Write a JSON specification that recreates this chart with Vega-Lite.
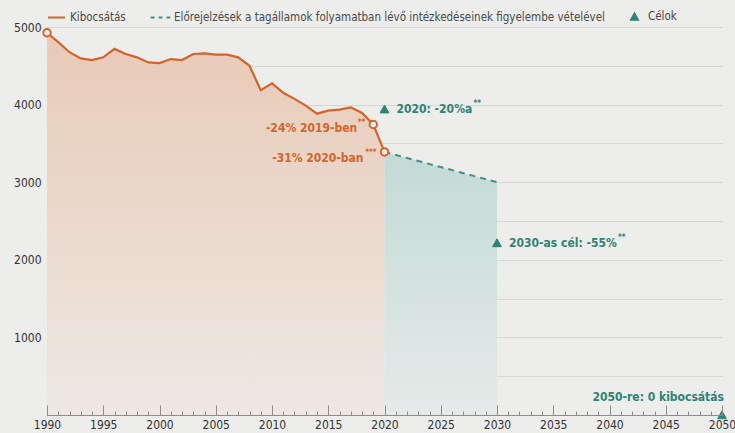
{
  "$schema": "https://vega.github.io/schema/vega-lite/v6.json",
  "width": 675,
  "height": 388,
  "autosize": {"type": "none"},
  "padding": {"left": 47, "top": 27, "right": 13, "bottom": 18},
  "background": "#ededeb",
  "config": {
    "view": {"stroke": null},
    "font": "DejaVu Sans Condensed",
    "axis": {"labelFont": "DejaVu Sans Condensed", "labelFontSize": 12, "labelColor": "#333333", "title": null}
  },
  "datasets": {
    "hist": [
      {"year": 1990, "value": 4926}, {"year": 1991, "value": 4805}, {"year": 1992, "value": 4675},
      {"year": 1993, "value": 4596}, {"year": 1994, "value": 4574}, {"year": 1995, "value": 4609},
      {"year": 1996, "value": 4718}, {"year": 1997, "value": 4652}, {"year": 1998, "value": 4609},
      {"year": 1999, "value": 4544}, {"year": 2000, "value": 4535}, {"year": 2001, "value": 4587},
      {"year": 2002, "value": 4574}, {"year": 2003, "value": 4652}, {"year": 2004, "value": 4661},
      {"year": 2005, "value": 4643}, {"year": 2006, "value": 4643}, {"year": 2007, "value": 4609},
      {"year": 2008, "value": 4500}, {"year": 2009, "value": 4187}, {"year": 2010, "value": 4274},
      {"year": 2011, "value": 4152}, {"year": 2012, "value": 4074}, {"year": 2013, "value": 3987},
      {"year": 2014, "value": 3883}, {"year": 2015, "value": 3922}, {"year": 2016, "value": 3935},
      {"year": 2017, "value": 3965}, {"year": 2018, "value": 3892}, {"year": 2019, "value": 3744},
      {"year": 2020, "value": 3390}
    ],
    "proj": [
      {"year": 2020, "value": 3390}, {"year": 2030, "value": 3000}
    ],
    "marked": [
      {"year": 1990, "value": 4926}, {"year": 2019, "value": 3744}, {"year": 2020, "value": 3390}
    ],
    "targets": [
      {"year": 2020, "value": 3941, "series": "Célok"},
      {"year": 2030, "value": 2217, "series": "Célok"},
      {"year": 2050, "value": 0, "series": "Célok"}
    ],
    "labels": [
      {"id": "h19", "year": 2019, "value": 3744, "label": "-24% 2019-ben", "sup": "**"},
      {"id": "h20", "year": 2020, "value": 3390, "label": "-31% 2020-ban", "sup": "***"},
      {"id": "t20", "year": 2020, "value": 3941, "label": "2020: -20%a", "sup": "**"},
      {"id": "t30", "year": 2030, "value": 2217, "label": "2030-as cél: -55%", "sup": "**"},
      {"id": "t50", "year": 2050, "value": 0, "label": "2050-re: 0 kibocsátás", "sup": ""}
    ]
  },
  "resolve": {"axis": {"x": "independent"}},
  "layer": [
    {
      "data": {"name": "hist"},
      "mark": {"type": "area", "color": {"gradient": "linear", "x1": 0, "y1": 0, "x2": 0, "y2": 1, "stops": [{"offset": 0, "color": "#e8cab6"}, {"offset": 1, "color": "#eee8e3"}]}},
      "encoding": {
        "x": {"field": "year", "type": "quantitative", "scale": {"domain": [1990, 2050], "nice": false},
          "axis": {"orient": "bottom", "zindex": 1, "values": [1990, 1995, 2000, 2005, 2010, 2015, 2020, 2025, 2030, 2035, 2040, 2045, 2050], "format": "d", "tickSize": -10, "tickColor": "#8c8c8c", "domainColor": "#8c8c8c", "labelPadding": 14, "grid": false, "labelFlush": false}},
        "y": {"field": "value", "type": "quantitative", "scale": {"domain": [0, 5000], "nice": false},
          "axis": {"values": [500, 1000, 1500, 2000, 2500, 3000, 3500, 4000, 4500, 5000], "labelExpr": "datum.value % 1000 === 0 ? datum.label : ''", "format": "d", "ticks": false, "labelPadding": 6, "gridColor": "#d6d6d4", "domainColor": "#b4b4b2", "grid": true}}
      }
    },
    {
      "data": {"name": "proj"},
      "mark": {"type": "area", "color": {"gradient": "linear", "x1": 0, "y1": 0, "x2": 0, "y2": 1, "stops": [{"offset": 0, "color": "#c3dad6"}, {"offset": 1, "color": "#e5eae9"}]}},
      "encoding": {
        "x": {"field": "year", "type": "quantitative",
          "axis": {"orient": "bottom", "zindex": 1, "values": [1990,1991,1992,1993,1994,1995,1996,1997,1998,1999,2000,2001,2002,2003,2004,2005,2006,2007,2008,2009,2010,2011,2012,2013,2014,2015,2016,2017,2018,2019,2020,2021,2022,2023,2024,2025,2026,2027,2028,2029,2030,2031,2032,2033,2034,2035,2036,2037,2038,2039,2040,2041,2042,2043,2044,2045,2046,2047,2048,2049,2050], "labels": false, "tickSize": -4, "tickColor": "#8c8c8c", "domain": false, "grid": false}},
        "y": {"field": "value", "type": "quantitative"}
      }
    },
    {
      "data": {"name": "hist"},
      "mark": {"type": "line", "color": "#d2642c", "strokeWidth": 2.2},
      "encoding": {
        "x": {"field": "year", "type": "quantitative", "axis": null},
        "y": {"field": "value", "type": "quantitative"}
      }
    },
    {
      "data": {"name": "proj"},
      "mark": {"type": "line", "color": "#3f9183", "strokeWidth": 2, "strokeDash": [6, 5]},
      "encoding": {
        "x": {"field": "year", "type": "quantitative", "axis": null},
        "y": {"field": "value", "type": "quantitative"}
      }
    },
    {
      "data": {"name": "marked"},
      "mark": {"type": "point", "shape": "circle", "filled": false, "fill": "#f6efe9", "stroke": "#d2642c", "strokeWidth": 2, "size": 55, "opacity": 1},
      "encoding": {
        "x": {"field": "year", "type": "quantitative", "axis": null},
        "y": {"field": "value", "type": "quantitative"}
      }
    },
    {
      "data": {"name": "targets"},
      "mark": {"type": "point", "filled": false, "fill": "#2e8474", "fillOpacity": 1, "strokeWidth": 1, "size": 480, "opacity": 1},
      "encoding": {
        "x": {"field": "year", "type": "quantitative", "axis": null},
        "y": {"field": "value", "type": "quantitative"},
        "color": {"field": "series", "type": "nominal",
          "scale": {"domain": ["Kibocsátás", "Előrejelzések a tagállamok folyamatban lévő intézkedéseinek figyelembe vételével", "Célok"], "range": ["#d2642c", "#3f9183", "#2e8474"]},
          "legend": {"orient": "none", "legendX": 0, "legendY": -20, "direction": "horizontal", "columns": 3, "title": null, "padding": 0,
            "labelFont": "DejaVu Sans Condensed", "labelFontSize": 11.5, "labelColor": "#4a4a4a", "labelLimit": 700, "symbolSize": 289, "labelOffset": 4, "columnPadding": 20,
            "symbolStrokeWidth": 2, "symbolFillColor": "#2e8474", "symbolOpacity": 1}},
        "shape": {"field": "series", "type": "nominal",
          "scale": {"domain": ["Kibocsátás", "Előrejelzések a tagállamok folyamatban lévő intézkedéseinek figyelembe vételével", "Célok"], "range": ["M-1,0H1", "M-1.15,0H-0.7M-0.22,0H0.22M0.7,0H1.15", "M0,-0.38L0.4,0.34L-0.4,0.34Z"]}}
      }
    },
    {
      "data": {"name": "labels"},
      "transform": [{"filter": "datum.id === 'h19'"}],
      "layer": [
        {"mark": {"type": "text", "align": "right", "baseline": "middle", "dx": -16, "dy": 4, "fontWeight": "bold", "fontSize": 12, "color": "#d2642c"},
         "encoding": {"x": {"field": "year", "type": "quantitative", "axis": null}, "y": {"field": "value", "type": "quantitative"}, "text": {"field": "label"}}},
        {"mark": {"type": "text", "align": "right", "baseline": "middle", "dx": -8, "dy": -1, "fontWeight": "bold", "fontSize": 8, "color": "#d2642c"},
         "encoding": {"x": {"field": "year", "type": "quantitative", "axis": null}, "y": {"field": "value", "type": "quantitative"}, "text": {"field": "sup"}}}
      ]
    },
    {
      "data": {"name": "labels"},
      "transform": [{"filter": "datum.id === 'h20'"}],
      "layer": [
        {"mark": {"type": "text", "align": "right", "baseline": "middle", "dx": -21, "dy": 6, "fontWeight": "bold", "fontSize": 12, "color": "#d2642c"},
         "encoding": {"x": {"field": "year", "type": "quantitative", "axis": null}, "y": {"field": "value", "type": "quantitative"}, "text": {"field": "label"}}},
        {"mark": {"type": "text", "align": "right", "baseline": "middle", "dx": -8, "dy": 1, "fontWeight": "bold", "fontSize": 8, "color": "#d2642c"},
         "encoding": {"x": {"field": "year", "type": "quantitative", "axis": null}, "y": {"field": "value", "type": "quantitative"}, "text": {"field": "sup"}}}
      ]
    },
    {
      "data": {"name": "labels"},
      "transform": [{"filter": "datum.id === 't20'"}],
      "layer": [
        {"mark": {"type": "text", "align": "left", "baseline": "middle", "dx": 12, "dy": 0, "fontWeight": "bold", "fontSize": 12, "color": "#2e8474"},
         "encoding": {"x": {"field": "year", "type": "quantitative", "axis": null}, "y": {"field": "value", "type": "quantitative"}, "text": {"field": "label"}}},
        {"mark": {"type": "text", "align": "left", "baseline": "middle", "dx": 89, "dy": -5, "fontWeight": "bold", "fontSize": 8, "color": "#2e8474"},
         "encoding": {"x": {"field": "year", "type": "quantitative", "axis": null}, "y": {"field": "value", "type": "quantitative"}, "text": {"field": "sup"}}}
      ]
    },
    {
      "data": {"name": "labels"},
      "transform": [{"filter": "datum.id === 't30'"}],
      "layer": [
        {"mark": {"type": "text", "align": "left", "baseline": "middle", "dx": 12, "dy": 0, "fontWeight": "bold", "fontSize": 12, "color": "#2e8474"},
         "encoding": {"x": {"field": "year", "type": "quantitative", "axis": null}, "y": {"field": "value", "type": "quantitative"}, "text": {"field": "label"}}},
        {"mark": {"type": "text", "align": "left", "baseline": "middle", "dx": 121, "dy": -5, "fontWeight": "bold", "fontSize": 8, "color": "#2e8474"},
         "encoding": {"x": {"field": "year", "type": "quantitative", "axis": null}, "y": {"field": "value", "type": "quantitative"}, "text": {"field": "sup"}}}
      ]
    },
    {
      "data": {"name": "labels"},
      "transform": [{"filter": "datum.id === 't50'"}],
      "mark": {"type": "text", "align": "right", "baseline": "middle", "dx": 2, "dy": -18, "fontWeight": "bold", "fontSize": 12, "color": "#2e8474"},
      "encoding": {"x": {"field": "year", "type": "quantitative", "axis": null}, "y": {"field": "value", "type": "quantitative"}, "text": {"field": "label"}}
    }
  ]
}
